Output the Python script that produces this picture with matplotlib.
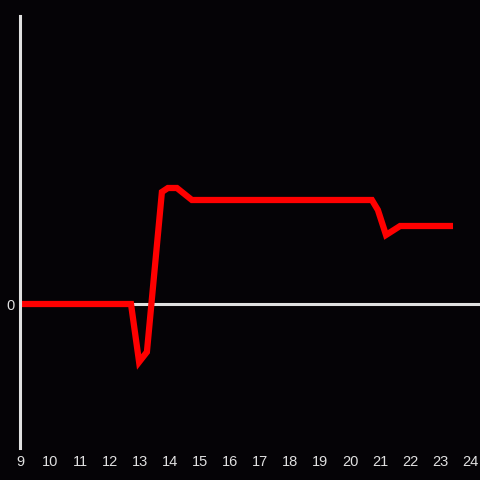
import matplotlib.pyplot as plt

# hours of day and value (arbitrary units)
hours = [9.0, 12.7, 12.97, 13.23, 13.73, 13.93, 14.23, 14.73, 20.73, 20.93, 21.2, 21.67, 23.33]
values = [0.0, 0.0, -5.8, -4.8, 11.2, 11.6, 11.6, 10.4, 10.4, 9.4, 6.9, 7.8, 7.8]
xticks = list(range(9, 25))

bg = '#050306'
fg = '#e0e0e0'

plt.rcParams['font.family'] = ['Liberation Sans', 'DejaVu Sans']

fig = plt.figure(figsize=(4.8, 4.8), dpi=100, facecolor=bg)
ax = fig.add_axes([20/480, 32/480, 460/480, 432/480], facecolor=bg)

ax.axhline(0, color=fg, lw=2.2, zorder=1)
ax.plot(hours, values, color='#ff0000', lw=4.5, solid_joinstyle='miter', zorder=2)

ax.set_xlim(9, 24 + 1/3)
ax.set_ylim(-14.4, 28.8)

for s in ['top', 'right', 'bottom']:
    ax.spines[s].set_visible(False)
ax.spines['left'].set_color(fg)
ax.spines['left'].set_linewidth(2.2)

ax.set_xticks(xticks)
ax.set_xticklabels([str(h) for h in xticks])
ax.set_yticks([0])
ax.set_yticklabels(['0'])
ax.tick_params(length=0, colors=fg, labelsize=10.5)
ax.tick_params(axis='x', pad=5)
ax.tick_params(axis='y', pad=4)

fig.savefig('out.png', dpi=100, facecolor=bg)
